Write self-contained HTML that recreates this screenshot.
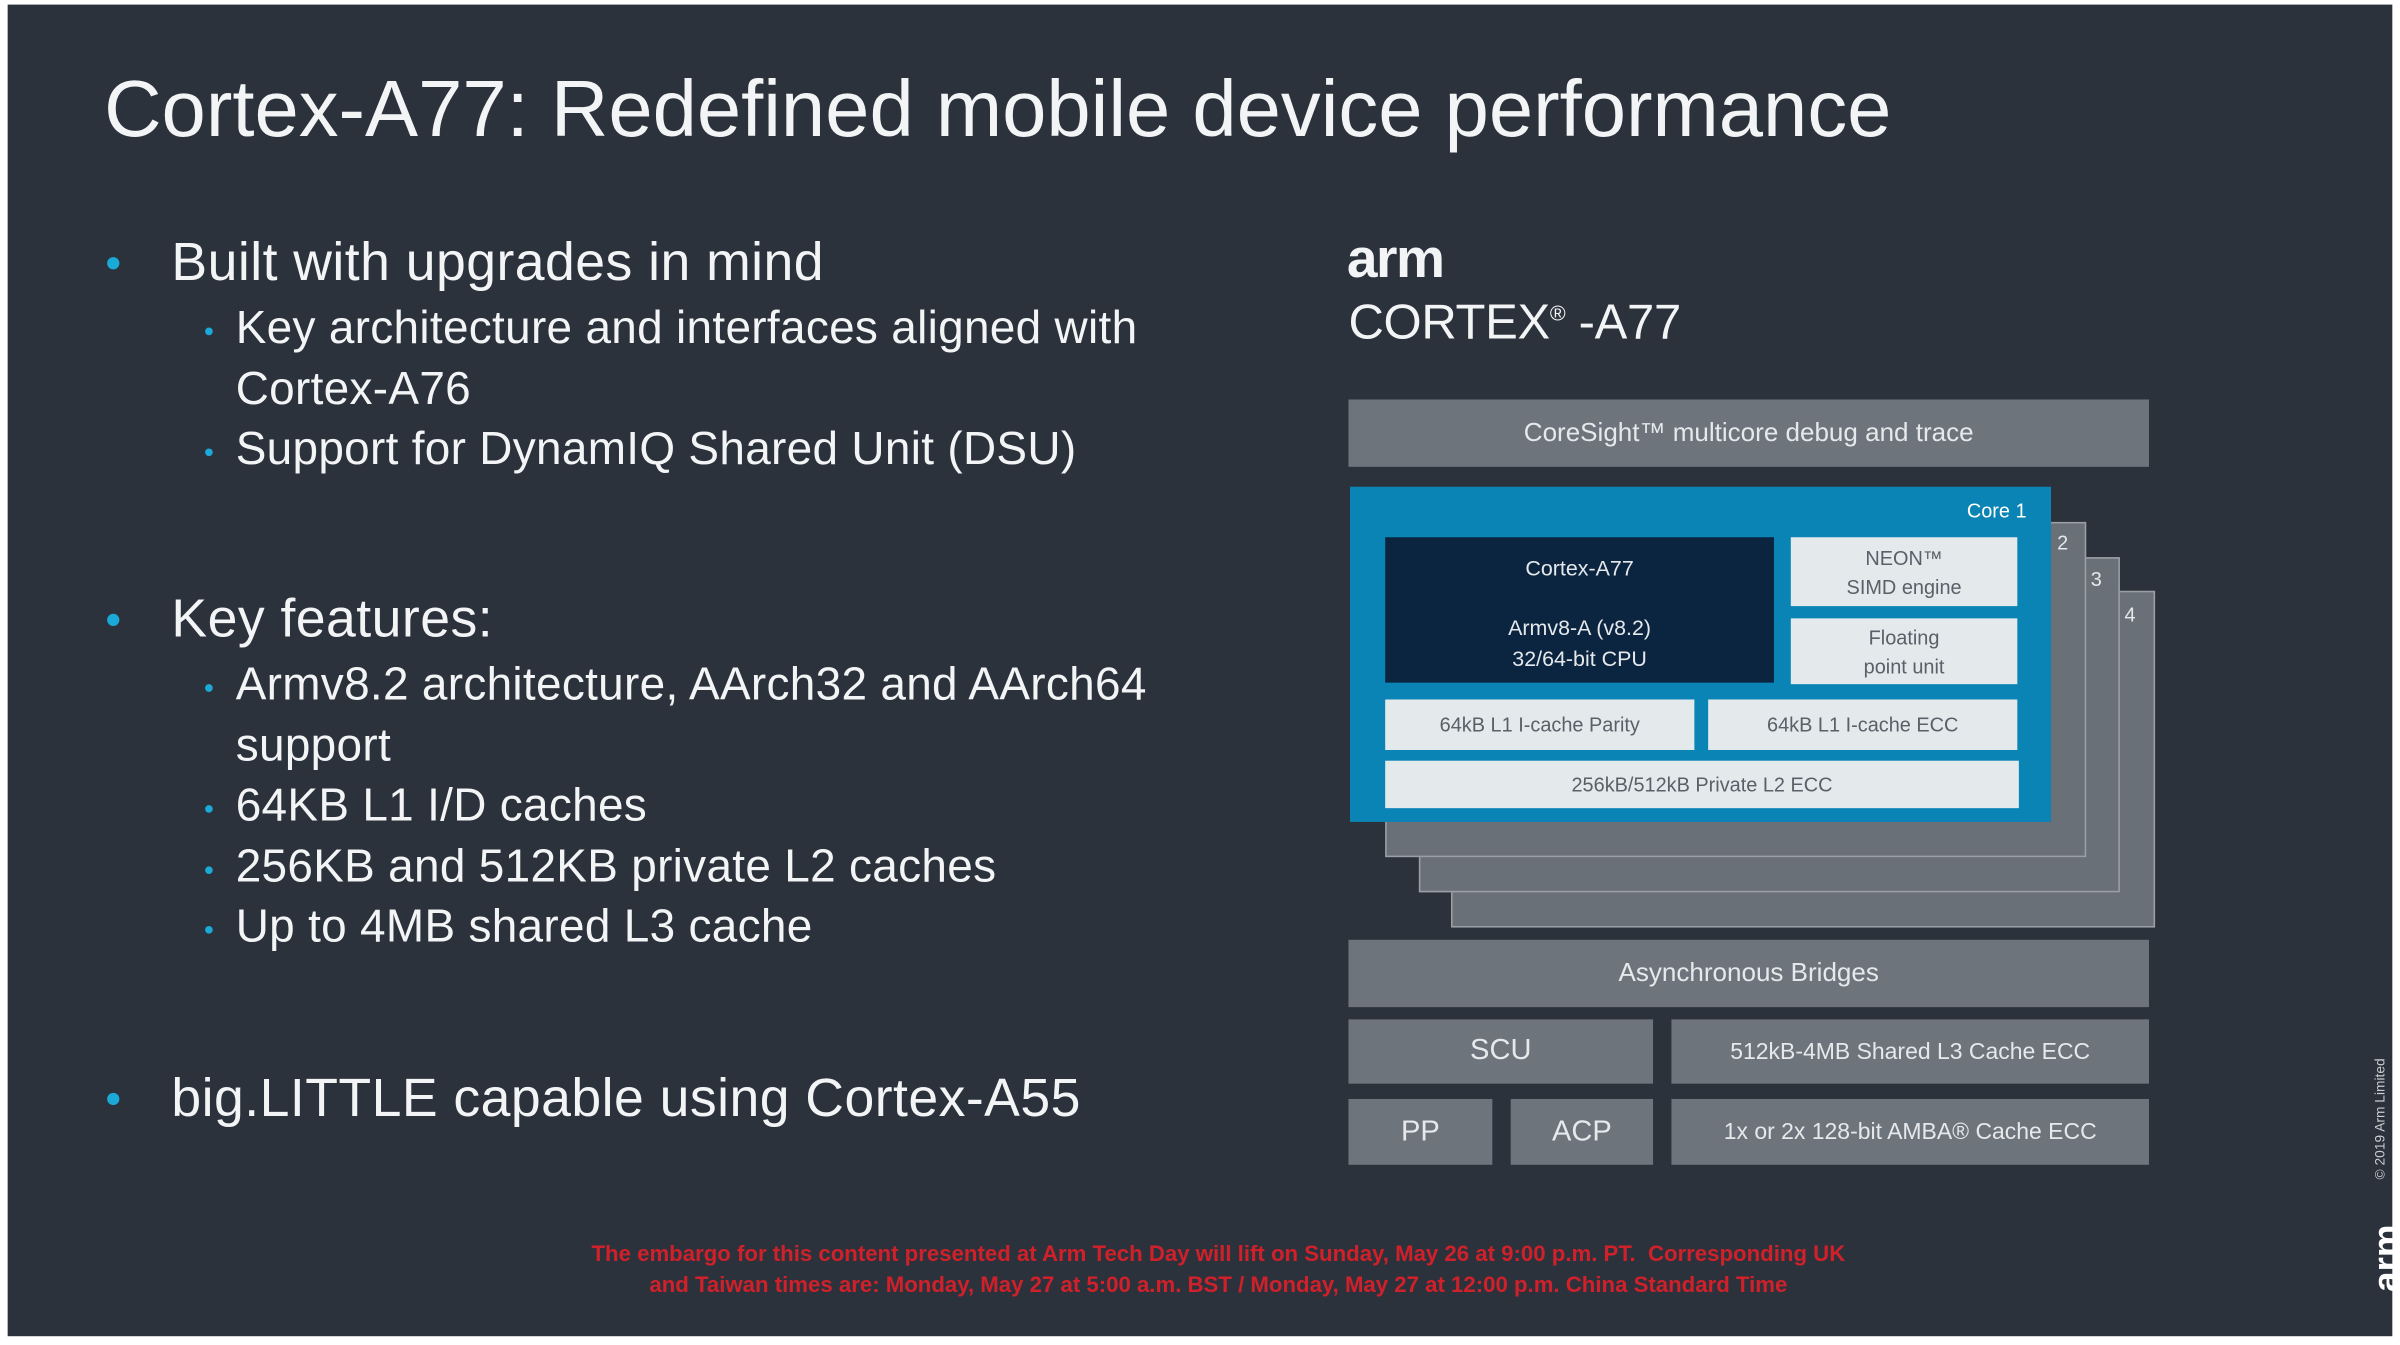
<!DOCTYPE html>
<html><head><meta charset="utf-8"><style>
html,body{margin:0;padding:0;background:#fff;}
body{width:2400px;height:1345px;overflow:hidden;position:relative;}
#s{position:absolute;left:0;top:0;width:1568px;height:879px;transform:scale(1.5306);transform-origin:0 0;background:#fff;font-family:"Liberation Sans",sans-serif;}
#bg{position:absolute;left:5px;top:3px;width:1558px;height:870px;background:#2c323c;}
.a{position:absolute;white-space:nowrap;}
.t{color:#f2f4f5;}
.m{font-size:35px;letter-spacing:0.3px;}
.n{font-size:30px;letter-spacing:0.2px;}
.dot{position:absolute;width:8px;height:8px;border-radius:50%;background:#1ba9d8;}
.sd{position:absolute;width:5px;height:5px;border-radius:50%;background:#1ba9d8;}
.b{position:absolute;background:#6e747c;color:#e6e9eb;font-size:17px;display:flex;align-items:center;justify-content:center;}
.w{position:absolute;background:#e4e9eb;color:#5a6068;font-size:13px;display:flex;align-items:center;justify-content:center;text-align:center;line-height:19px;}
.l{position:absolute;background:#6a7078;border:1px solid #9aa0a6;}
</style></head><body><div id="s">
<div id="bg"></div>
<div class="a t" style="left:68px;top:42px;font-size:52px;letter-spacing:0px;">Cortex-A77: Redefined mobile device performance</div>

<div class="dot" style="left:70px;top:168px"></div>
<div class="a t m" style="left:112px;top:152px">Built with upgrades in mind</div>
<div class="sd" style="left:134px;top:214px"></div>
<div class="a t n" style="left:154px;top:198px">Key architecture and interfaces aligned with</div>
<div class="a t n" style="left:154px;top:238px">Cortex-A76</div>
<div class="sd" style="left:134px;top:293px"></div>
<div class="a t n" style="left:154px;top:277px">Support for DynamIQ Shared Unit (DSU)</div>

<div class="dot" style="left:70px;top:401px"></div>
<div class="a t m" style="left:112px;top:385px">Key features:</div>
<div class="sd" style="left:134px;top:447px"></div>
<div class="a t n" style="left:154px;top:431px">Armv8.2 architecture, AArch32 and AArch64</div>
<div class="a t n" style="left:154px;top:471px">support</div>
<div class="sd" style="left:134px;top:526px"></div>
<div class="a t n" style="left:154px;top:510px">64KB L1 I/D caches</div>
<div class="sd" style="left:134px;top:566px"></div>
<div class="a t n" style="left:154px;top:550px">256KB and 512KB private L2 caches</div>
<div class="sd" style="left:134px;top:605px"></div>
<div class="a t n" style="left:154px;top:589px">Up to 4MB shared L3 cache</div>

<div class="dot" style="left:70px;top:714px"></div>
<div class="a t m" style="left:112px;top:698px">big.LITTLE capable using Cortex-A55</div>

<div class="a t" style="left:880px;top:148px;font-size:36px;font-weight:bold;letter-spacing:-1px">arm</div>
<div class="a t" style="left:881px;top:192px;font-size:32px;letter-spacing:-0.2px">CORTEX<sup style="font-size:14px">®</sup> -A77</div>

<div class="b" style="left:881px;top:261px;width:523px;height:44px">CoreSight™ multicore debug and trace</div>

<div class="l" style="left:948px;top:386px;width:458px;height:218px"></div>
<div class="l" style="left:927px;top:364px;width:456px;height:217px"></div>
<div class="l" style="left:905px;top:341px;width:456px;height:217px"></div>
<div class="a" style="left:1344px;top:347px;font-size:13px;color:#e6e9eb">2</div>
<div class="a" style="left:1366px;top:371px;font-size:13px;color:#e6e9eb">3</div>
<div class="a" style="left:1388px;top:394px;font-size:13px;color:#e6e9eb">4</div>

<div class="a" style="left:882px;top:318px;width:458px;height:219px;background:#0a84b5"></div>
<div class="a" style="left:1285px;top:326px;font-size:13px;color:#fff">Core 1</div>
<div class="a" style="left:905px;top:351px;width:254px;height:95px;background:#0b2540;color:#e6e9eb;font-size:14px;text-align:center;line-height:20px">
<div style="margin-top:10px">Cortex-A77</div><div style="margin-top:19px">Armv8-A (v8.2)</div><div>32/64-bit CPU</div></div>
<div class="w" style="left:1170px;top:351px;width:148px;height:45px">NEON™<br>SIMD engine</div>
<div class="w" style="left:1170px;top:404px;width:148px;height:43px">Floating<br>point unit</div>
<div class="w" style="left:905px;top:457px;width:202px;height:33px">64kB L1 I-cache Parity</div>
<div class="w" style="left:1116px;top:457px;width:202px;height:33px">64kB L1 I-cache ECC</div>
<div class="w" style="left:905px;top:497px;width:414px;height:31px">256kB/512kB Private L2 ECC</div>

<div class="b" style="left:881px;top:614px;width:523px;height:44px">Asynchronous Bridges</div>
<div class="b" style="left:881px;top:666px;width:199px;height:42px;font-size:19px">SCU</div>
<div class="b" style="left:1092px;top:666px;width:312px;height:42px;font-size:15px">512kB-4MB Shared L3 Cache ECC</div>
<div class="b" style="left:881px;top:718px;width:94px;height:43px;font-size:19px">PP</div>
<div class="b" style="left:987px;top:718px;width:93px;height:43px;font-size:19px">ACP</div>
<div class="b" style="left:1092px;top:718px;width:312px;height:43px;font-size:15px">1x or 2x 128-bit AMBA® Cache ECC</div>

<div class="a" style="left:0;width:1592px;top:810px;text-align:center;color:#d0202a;font-size:14.5px;font-weight:bold;line-height:20px;letter-spacing:0px">The embargo for this content presented at Arm Tech Day will lift on Sunday, May 26 at 9:00 p.m. PT.&nbsp; Corresponding UK<br>and Taiwan times are: Monday, May 27 at 5:00 a.m. BST / Monday, May 27 at 12:00 p.m. China Standard Time</div>

<div class="a" style="left:1537px;top:808px;transform:rotate(-90deg);transform-origin:center;color:#fff;font-size:24px;font-weight:bold;width:46px;text-align:center">arm</div>
<div class="a" style="left:1510px;top:726px;transform:rotate(-90deg);color:#c8ccd0;font-size:9px;width:90px;text-align:center">© 2019 Arm Limited</div>
</div></body></html>
